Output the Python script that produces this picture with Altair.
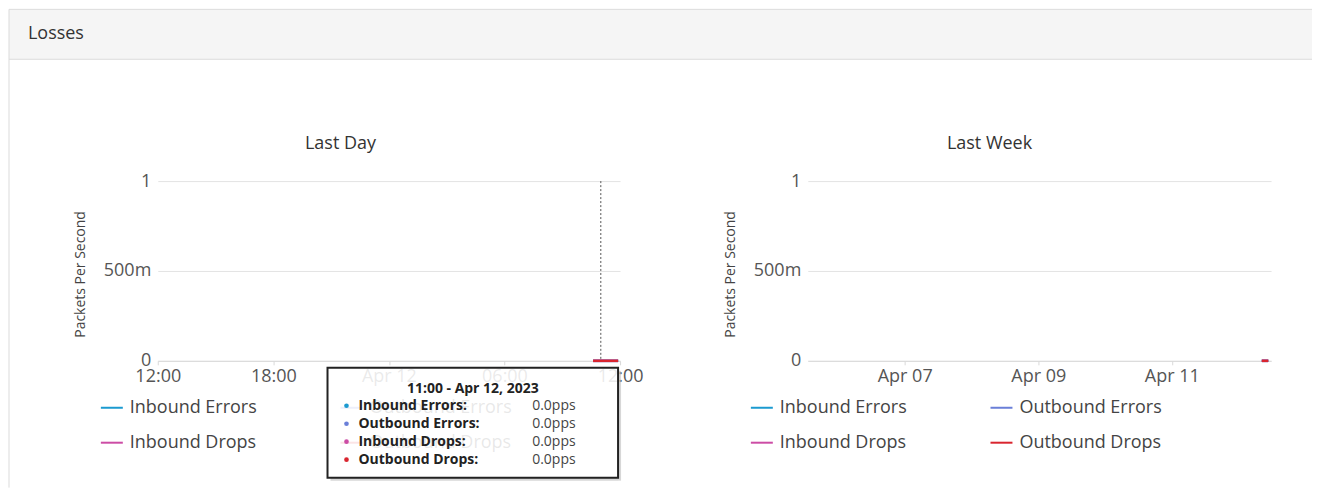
import altair as alt
import pandas as pd

# ---------------- data ----------------
panel_title = "Losses"
chart_titles = ["Last Day", "Last Week"]
y_title = "Packets Per Second"

series = ["Inbound Errors", "Outbound Errors", "Inbound Drops", "Outbound Drops"]
colors = ["#1b9ad0", "#6a7fd8", "#cc4ca5", "#d9252f"]

day_times = ["2023-04-12T10:36", "2023-04-12T11:00", "2023-04-12T11:25", "2023-04-12T11:54"]
day_inbound_errors = [0, 0, 0, 0]
day_outbound_errors = [0, 0, 0, 0]
day_inbound_drops = [0, 0, 0, 0]
day_outbound_drops = [0, 0, 0, 0]

week_times = ["2023-04-12T08:20", "2023-04-12T10:40"]
week_inbound_errors = [0, 0]
week_outbound_errors = [0, 0]
week_inbound_drops = [0, 0]
week_outbound_drops = [0, 0]

day_domain = ["2023-04-11T12:00", "2023-04-12T12:00"]
week_domain = ["2023-04-05T13:10", "2023-04-12T11:40"]
day_ticks = ["2023-04-11T12:00", "2023-04-11T18:00", "2023-04-12T00:00", "2023-04-12T06:00", "2023-04-12T12:00"]
day_tick_labels = ["12:00", "18:00", "Apr 12", "06:00", "12:00"]
week_ticks = ["2023-04-07T00:00", "2023-04-09T00:00", "2023-04-11T00:00"]
week_tick_labels = ["Apr 07", "Apr 09", "Apr 11"]
y_ticks = [0, 0.5, 1]
y_tick_labels = ["0", "500m", "1"]

hover_time = ["2023-04-12T11:00"]
tooltip_title = "11:00 - Apr 12, 2023"
tooltip_values = ["0.0pps", "0.0pps", "0.0pps", "0.0pps"]

# ---------------- layout (pixels, relative to each plot's origin) ----------------
FONT = "Open Sans"
W_DAY, W_WEEK, H, GAP = 463, 464, 180, 188
LEFT_EDGE, TOP_EDGE = -149, -172
RIGHT_EDGE = W_DAY + GAP + W_WEEK + 41
HEADER_BOTTOM = -122
BOTTOM_EDGE = 307


def dt(s):
    t = pd.Timestamp(s)
    return alt.DateTime(year=t.year, month=t.month, date=t.day, hours=t.hour, minutes=t.minute)


def lookup_expr(keys, labels, key_expr):
    expr = "''"
    for k, lab in reversed(list(zip(keys, labels))):
        expr = f"({key_expr} == '{k}') ? '{lab}' : ({expr})"
    return expr


def one(v="x"):
    return pd.DataFrame({"t": [v]})


def text_layer(txt, x, y, size, color, align="left", weight="normal"):
    return alt.Chart(one(txt)).mark_text(
        align=align, baseline="middle", fontSize=size, color=color, font=FONT, fontWeight=weight
    ).encode(text="t:N", x=alt.value(x), y=alt.value(y))


def hrule(x, x2, y, color, width=1.0):
    return alt.Chart(one()).mark_rule(color=color, strokeWidth=width).encode(
        x=alt.value(x), x2=alt.value(x2), y=alt.value(y))


def vrule(x, y, y2, color, width=1.0):
    return alt.Chart(one()).mark_rule(color=color, strokeWidth=width).encode(
        x=alt.value(x), y=alt.value(y), y2=alt.value(y2))


def rect(x, x2, y, y2, **kw):
    return alt.Chart(one()).mark_rect(**kw).encode(
        x=alt.value(x), x2=alt.value(x2), y=alt.value(y), y2=alt.value(y2))


def long_table(times, value_lists):
    rows = []
    for name, vals in zip(series, value_lists):
        for t, v in zip(times, vals):
            rows.append({"time": t, "value": v, "series": name})
    return pd.DataFrame(rows)


def legend_layers():
    layers = []
    for i, (name, col) in enumerate(zip(series, colors)):
        lx = -57 + (i % 2) * 240
        ly = 227 + (i // 2) * 35
        layers.append(hrule(lx, lx + 22, ly, col, 2))
        layers.append(text_layer(name, lx + 29, ly, 18, "#444"))
    return layers


def y_axis():
    return alt.Axis(
        values=y_ticks,
        labelExpr=lookup_expr([format(v, ".1f") for v in y_ticks], y_tick_labels, "format(datum.value, '.1f')"),
        grid=True, gridColor="#e3e3e3", domain=False, ticks=False,
        labelFontSize=18, labelColor="#555", labelPadding=7, labelFont=FONT,
        title=y_title, titleFontSize=14, titleFontWeight="normal", titleColor="#444", titleFont=FONT,
        titleX=-73, titleY=93, titleBaseline="alphabetic",
    )


def x_axis(ticks, labels):
    return alt.Axis(
        values=[dt(t) for t in ticks],
        labelExpr=lookup_expr(ticks, labels, "timeFormat(datum.value, '%Y-%m-%dT%H:%M')"),
        grid=False, domain=True, domainColor="#d9d9d9", tickColor="#d9d9d9", tickSize=4,
        labelFontSize=18, labelColor="#555", labelPadding=3, labelFont=FONT,
        labelFlush=False, labelOverlap=False, labelBound=False, title="",
    )


def line_layer(times, value_lists, domain, ticks, labels):
    return alt.Chart(long_table(times, value_lists)).mark_line(strokeWidth=2.5).encode(
        x=alt.X("time:T", scale=alt.Scale(domain=[dt(domain[0]), dt(domain[1])], nice=False),
                axis=x_axis(ticks, labels)),
        y=alt.Y("value:Q", scale=alt.Scale(domain=[0, 1], nice=False), axis=y_axis()),
        color=alt.Color("series:N", scale=alt.Scale(domain=series, range=colors), legend=None),
    )


# ---------------- left panel: Last Day ----------------
day_lines = line_layer(
    day_times,
    [day_inbound_errors, day_outbound_errors, day_inbound_drops, day_outbound_drops],
    day_domain, day_ticks, day_tick_labels,
)

hover = alt.Chart(pd.DataFrame({"time": hover_time})).mark_rule(
    color="#555", strokeWidth=1, strokeDash=[2, 2]
).encode(x="time:T")

# tooltip box
TX0, TX1, TY0, TY1 = 170, 461, 187, 297
tooltip = [
    rect(TX1, TX1 + 3, TY0 + 3, TY1 + 3, color="#bdbdbd", opacity=0.6),
    rect(TX0 + 3, TX1, TY1, TY1 + 3, color="#bdbdbd", opacity=0.6),
    rect(TX0, TX1, TY0, TY1, fill="white", fillOpacity=0.88, stroke="#222", strokeWidth=2),
    text_layer(tooltip_title, (TX0 + TX1) / 2, 208, 14, "#222", align="center", weight="bold"),
]
for i, (name, col, val) in enumerate(zip(series, colors, tooltip_values)):
    ry = 225 + i * 18
    tooltip.append(
        alt.Chart(one()).mark_point(filled=True, size=22, color=col, opacity=1).encode(
            x=alt.value(189), y=alt.value(ry))
    )
    tooltip.append(text_layer(name + ":", 201, ry, 14, "#222", weight="bold"))
    tooltip.append(text_layer(val, 375, ry, 14, "#444"))

header = [
    rect(LEFT_EDGE, RIGHT_EDGE, TOP_EDGE, HEADER_BOTTOM, color="#f5f5f5"),
    hrule(LEFT_EDGE, RIGHT_EDGE, TOP_EDGE, "#dcdcdc"),
    hrule(LEFT_EDGE, RIGHT_EDGE, HEADER_BOTTOM, "#dcdcdc"),
    vrule(LEFT_EDGE, TOP_EDGE, BOTTOM_EDGE, "#dcdcdc"),
    text_layer(panel_title, -130, -147, 18, "#333"),
]

left = alt.layer(
    *header,
    text_layer(chart_titles[0], 183, -37, 18, "#333", align="center"),
    day_lines,
    hover,
    *legend_layers(),
    *tooltip,
).properties(width=W_DAY, height=H)

# ---------------- right panel: Last Week ----------------
week_lines = line_layer(
    week_times,
    [week_inbound_errors, week_outbound_errors, week_inbound_drops, week_outbound_drops],
    week_domain, week_ticks, week_tick_labels,
)

right = alt.layer(
    text_layer(chart_titles[1], 182, -37, 18, "#333", align="center"),
    week_lines,
    *legend_layers(),
).properties(width=W_WEEK, height=H)

chart = alt.hconcat(left, right, spacing=GAP, bounds="flush").properties(
    padding=0
).configure(font=FONT).configure_view(strokeWidth=0)

chart.save("out.html", embed_options={"renderer": "svg", "actions": False})
